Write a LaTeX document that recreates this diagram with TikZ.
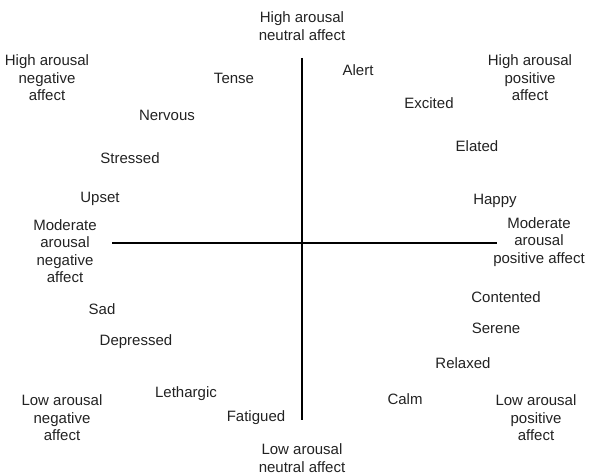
\documentclass[tikz,border=0pt]{standalone}
\usepackage{fontspec}
\setmainfont{Liberation Sans}
\definecolor{txt}{HTML}{222222}
\begin{document}
\begin{tikzpicture}[x=1pt,y=-1pt,
  lbl/.style={inner sep=0pt,align=center,text=txt,font=\fontsize{15}{17.5}\selectfont},
  axis/.style={line width=1.4pt}]
\useasboundingbox (0,0) rectangle (589,476);
\node[lbl] (hn) at (302,26) {High arousal\\neutral affect};
\node[lbl] (hneg) at (47,78) {High arousal\\negative\\affect};
\node[lbl] (hpos) at (530,78) {High arousal\\positive\\affect};
\node[lbl] (mneg) at (65,251) {Moderate\\arousal\\negative\\affect};
\node[lbl] (mpos) at (539,242) {Moderate\\arousal\\positive affect};
\node[lbl] (lneg) at (62,418) {Low arousal\\negative\\affect};
\node[lbl] (lpos) at (536,418) {Low arousal\\positive\\affect};
\node[lbl] (ln) at (302,458) {Low arousal\\neutral affect};
\coordinate (top) at (302,58);
\coordinate (bot) at (302,420);
\coordinate (left) at (112,243);
\coordinate (right) at (497,243);
\draw[axis] (top) -- (bot);
\draw[axis] (left) -- (right);
\node[lbl] (tense) at (234,78) {Tense};
\node[lbl] (alert) at (358,70) {Alert};
\node[lbl] (excited) at (429,103) {Excited};
\node[lbl] (nervous) at (167,115) {Nervous};
\node[lbl] (elated) at (477,146) {Elated};
\node[lbl] (stressed) at (130,158) {Stressed};
\node[lbl] (upset) at (100,199) {Upset};
\node[lbl] (happy) at (495,201) {Happy};
\node[lbl] (contented) at (506,297) {Contented};
\node[lbl] (sad) at (102,309) {Sad};
\node[lbl] (serene) at (496,328) {Serene};
\node[lbl] (depressed) at (136,342) {Depressed};
\node[lbl] (relaxed) at (463,363) {Relaxed};
\node[lbl] (lethargic) at (186,394) {Lethargic};
\node[lbl] (calm) at (405,399) {Calm};
\node[lbl] (fatigued) at (256,418) {Fatigued};
\end{tikzpicture}
\end{document}
